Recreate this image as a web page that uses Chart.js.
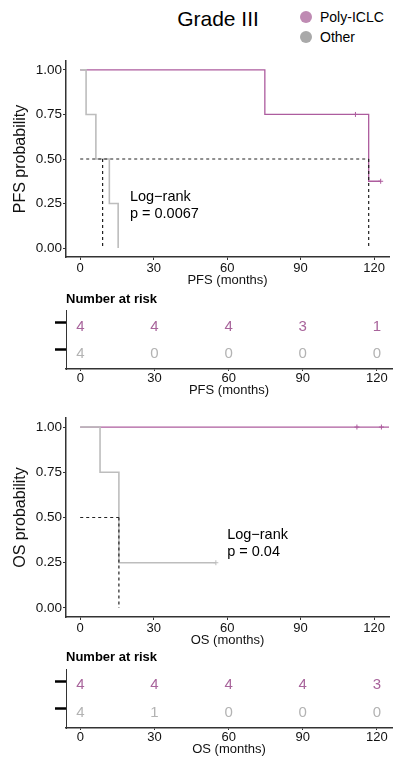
<!DOCTYPE html>
<html>
<head>
<meta charset="utf-8">
<script src="https://cdn.jsdelivr.net/npm/chart.js@4.4.0/dist/chart.umd.min.js"></script>
<style>
  html, body { margin: 0; padding: 0; background: #fff; width: 394px; height: 758px; overflow: hidden; }
  body { font-family: "Liberation Sans", Arial, sans-serif; color: #000; }
  canvas { position: absolute; left: 0; }
  #title { position: absolute; left: 118px; top: 6px; width: 200px; text-align: center; font-size: 21px; line-height: 25px; }
  .leg { position: absolute; left: 300px; font-size: 14px; line-height: 16px; }
  .leg span { display: inline-block; width: 12px; height: 12px; border-radius: 50%; vertical-align: -1px; margin-right: 8px; }
</style>
</head>
<body>
<div id="title">Grade III</div>
<div class="leg" style="top:9px"><span style="background:#bf8bb3"></span>Poly-ICLC</div>
<div class="leg" style="top:29px"><span style="background:#a9a9a9"></span>Other</div>

<canvas id="pfs" width="394" height="245" style="top:45px"></canvas>
<canvas id="pfsRisk" width="394" height="112" style="top:288px"></canvas>
<canvas id="os" width="394" height="250" style="top:400px"></canvas>
<canvas id="osRisk" width="394" height="108" style="top:650px"></canvas>

<script>
// ---- data ----
const xTicks = [0, 30, 60, 90, 120];
const yTicks = [0, 0.25, 0.5, 0.75, 1];

// PFS
const pfsPolyTime = [0, 75.4, 117.8, 122.7];
const pfsPolySurv = [1, 0.75, 0.375, 0.375];
const pfsPolyCensorTime = [112.4, 122.7];
const pfsPolyCensorSurv = [0.75, 0.375];
const pfsOtherTime = [0, 2.4, 6.4, 11.9, 15.5];
const pfsOtherSurv = [1, 0.75, 0.5, 0.25, 0];
const pfsOtherCensorTime = [];
const pfsOtherCensorSurv = [];
const pfsMedians = [117.8, 9.15];
const pfsPText = ['Log\u2212rank', 'p = 0.0067'];
const pfsRiskPoly = [4, 4, 4, 3, 1];
const pfsRiskOther = [4, 0, 0, 0, 0];

// OS
const osPolyTime = [0, 127];
const osPolySurv = [1, 1];
const osPolyCensorTime = [113, 123];
const osPolyCensorSurv = [1, 1];
const osOtherTime = [0, 8.1, 15.8, 55.4];
const osOtherSurv = [1, 0.75, 0.25, 0.25];
const osOtherCensorTime = [55.4];
const osOtherCensorSurv = [0.25];
const osMedians = [null, 15.8];
const osPText = ['Log\u2212rank', 'p = 0.04'];
const osRiskPoly = [4, 4, 4, 4, 3];
const osRiskOther = [4, 1, 0, 0, 0];

// ---- styles ----
const FONT = '"Liberation Sans", Arial, sans-serif';
const polyColor = '#ad5c9e';
const otherColor = '#bdbdbd';
const polyText = '#a8649b';
const otherText = '#b3b3b3';
const axisColor = '#333';

const pts = (t, s) => t.map((v, i) => ({ x: v, y: s[i] }));

// text at data coordinates (log-rank label)
const noteText = {
  id: 'noteText',
  afterDatasetsDraw(chart, args, opts) {
    const { ctx, scales } = chart;
    if (!opts.lines) return;
    ctx.save();
    ctx.font = '14.5px ' + FONT;
    ctx.fillStyle = '#000';
    ctx.textAlign = 'left';
    ctx.textBaseline = 'middle';
    const x0 = scales.x.getPixelForValue(opts.x);
    const y0 = scales.y.getPixelForValue(opts.y);
    opts.lines.forEach((ln, k) => ctx.fillText(ln, x0, y0 + k * 17.5));
    ctx.restore();
  }
};

// numbers at risk, drawn at the point positions of each dataset
const riskText = {
  id: 'riskText',
  afterDatasetsDraw(chart, args, opts) {
    const ctx = chart.ctx;
    ctx.save();
    ctx.font = '15px ' + FONT;
    ctx.textAlign = 'center';
    ctx.textBaseline = 'middle';
    chart.data.datasets.forEach((d, i) => {
      ctx.fillStyle = d.textColor;
      chart.getDatasetMeta(i).data.forEach((p, j) => ctx.fillText(String(d.data[j].n), p.x, p.y + 4));
    });
    ctx.font = 'bold 13px ' + FONT;
    ctx.fillStyle = '#000';
    ctx.textAlign = 'left';
    ctx.fillText('Number at risk', chart.chartArea.left, opts.headerY);
    ctx.restore();
  }
};

function xScale(title, h, padB, tickLen) {
  return {
    type: 'linear', min: -5.8, max: 126.1,
    afterBuildTicks: s => { s.ticks = xTicks.map(v => ({ value: v })); },
    afterFit: s => { s.height = h; },
    grid: { drawOnChartArea: false, drawTicks: true, tickLength: tickLen, tickColor: axisColor, tickWidth: 1 },
    border: { display: true, color: axisColor, width: 1.5 },
    ticks: { font: { family: FONT, size: 13 }, color: '#111', padding: tickLen > 2 ? 1 : 0, maxRotation: 0, callback: v => String(v) },
    title: { display: true, text: title, font: { family: FONT, size: 13 }, color: '#111', padding: { top: 0, bottom: padB } }
  };
}

function kmChart(id, o) {
  const ds = [];
  const dash = { borderColor: '#222', borderDash: [3, 3], borderWidth: 1.2, showLine: true, pointRadius: 0 };
  const meds = o.medians.filter(m => m != null);
  ds.push(Object.assign({ data: [{ x: 0, y: 0.5 }, { x: Math.max(...meds), y: 0.5 }] }, dash));
  meds.forEach(m => ds.push(Object.assign({ data: [{ x: m, y: 0.5 }, { x: m, y: 0 }] }, dash)));
  ds.push({ data: pts(o.otherT, o.otherS), borderColor: otherColor, borderWidth: 1.6, stepped: 'before', showLine: true, pointRadius: 0 });
  ds.push({ data: pts(o.otherCT, o.otherCS), borderColor: otherColor, pointStyle: 'cross', pointRadius: 2.5, pointBorderWidth: 1, showLine: false });
  ds.push({ data: pts(o.polyCT, o.polyCS), borderColor: polyColor, pointStyle: 'cross', pointRadius: 2.5, pointBorderWidth: 1, showLine: false });
  ds.push({ data: pts(o.polyT, o.polyS), borderColor: polyColor, borderWidth: 1.3, stepped: 'before', showLine: true, pointRadius: 0 });

  new Chart(document.getElementById(id), {
    type: 'scatter',
    data: { datasets: ds },
    plugins: [noteText],
    options: {
      responsive: false, animation: false,
      layout: { padding: { top: o.padTop, right: 2, left: 0, bottom: 0 } },
      plugins: { legend: { display: false }, tooltip: { enabled: false }, noteText: o.note },
      scales: {
        x: xScale(o.xTitle, o.xH, 2, 3),
        y: {
          type: 'linear', min: -0.05, max: 1.05,
          afterBuildTicks: s => { s.ticks = yTicks.map(v => ({ value: v })); },
          afterFit: s => { s.width = 66; },
          grid: { drawOnChartArea: false, drawTicks: true, tickLength: 3, tickColor: axisColor, tickWidth: 1 },
          border: { display: true, color: axisColor, width: 1.5 },
          ticks: { font: { family: FONT, size: 13.5 }, color: '#111', padding: 1, callback: v => Number(v).toFixed(2) },
          title: { display: true, text: o.yTitle, font: { family: FONT, size: 16 }, color: '#111', padding: { top: 11, bottom: 0 } }
        }
      }
    }
  });
}

function riskChart(id, poly, other, o) {
  const row = (counts, r) => xTicks.map((t, j) => ({ x: t, y: r, n: counts[j] }));
  new Chart(document.getElementById(id), {
    type: 'scatter',
    data: {
      datasets: [
        { data: row(poly, 1), textColor: polyText, pointRadius: 0 },
        { data: row(other, 2), textColor: otherText, pointRadius: 0 }
      ]
    },
    plugins: [riskText],
    options: {
      responsive: false, animation: false,
      layout: { padding: { top: o.padTop, right: 2, left: 0, bottom: 0 } },
      plugins: { legend: { display: false }, tooltip: { enabled: false }, riskText: { headerY: o.headerY } },
      scales: {
        x: xScale(o.xTitle, o.xH, o.titlePad, 2),
        y: {
          type: 'linear', reverse: true, min: 0.55, max: 2.7,
          afterBuildTicks: s => { s.ticks = [1, 2].map(v => ({ value: v })); },
          afterFit: s => { s.width = 66; },
          grid: { drawOnChartArea: false, drawTicks: true, tickLength: 11, tickColor: '#000', tickWidth: 2.5 },
          border: { display: true, color: axisColor, width: 1 },
          ticks: { display: false }
        }
      }
    }
  });
}

kmChart('pfs', {
  polyT: pfsPolyTime, polyS: pfsPolySurv, polyCT: pfsPolyCensorTime, polyCS: pfsPolyCensorSurv,
  otherT: pfsOtherTime, otherS: pfsOtherSurv, otherCT: pfsOtherCensorTime, otherCS: pfsOtherCensorSurv,
  medians: pfsMedians, xTitle: 'PFS (months)', yTitle: 'PFS probability',
  padTop: 16, xH: 33, note: { lines: pfsPText, x: 20.3, y: 0.288 }
});
riskChart('pfsRisk', pfsRiskPoly, pfsRiskOther, { xTitle: 'PFS (months)', padTop: 22.5, xH: 31, titlePad: 2, headerY: 11 });

kmChart('os', {
  polyT: osPolyTime, polyS: osPolySurv, polyCT: osPolyCensorTime, polyCS: osPolyCensorSurv,
  otherT: osOtherTime, otherS: osOtherSurv, otherCT: osOtherCensorTime, otherCS: osOtherCensorSurv,
  medians: osMedians, xTitle: 'OS (months)', yTitle: 'OS probability',
  padTop: 18, xH: 33, note: { lines: osPText, x: 60, y: 0.405 }
});
riskChart('osRisk', osRiskPoly, osRiskOther, { xTitle: 'OS (months)', padTop: 19, xH: 30, titlePad: 1, headerY: 7.7 });
</script>
</body>
</html>
